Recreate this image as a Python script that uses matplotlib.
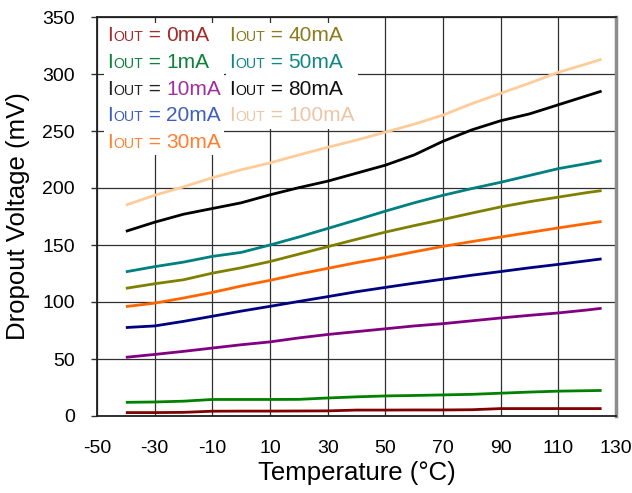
import matplotlib
matplotlib.use('Agg')
import matplotlib.pyplot as plt
from matplotlib.offsetbox import TextArea, HPacker, VPacker, AnchoredOffsetbox

plt.rcParams['font.family'] = ['Liberation Sans', 'DejaVu Sans']
plt.rcParams['axes.unicode_minus'] = False

# temperature points (deg C)
temps = [-40, -30, -20, -10, 0, 10, 20, 30, 40, 50, 60, 70, 80, 90, 100, 110, 120, 125]

# dropout voltage (mV) per load current
v_0ma = [3.0, 3.0, 3.2, 4.2, 4.3, 4.3, 4.4, 4.5, 5.2, 5.2, 5.3, 5.3, 5.5, 6.5, 6.5, 6.5, 6.5, 6.5]
v_1ma = [12.0, 12.3, 13.0, 14.5, 14.5, 14.5, 14.6, 15.8, 16.8, 17.6, 18.0, 18.5, 19.0, 20.0, 21.0, 21.8, 22.2, 22.4]
v_10ma = [51.5, 54.0, 56.7, 59.6, 62.5, 65.0, 68.5, 71.5, 74.0, 76.5, 79.0, 81.0, 83.5, 86.0, 88.3, 90.4, 93.0, 94.5]
v_20ma = [77.6, 79.0, 83.0, 87.5, 92.0, 96.2, 100.5, 104.7, 109.0, 112.8, 116.5, 120.0, 123.5, 126.7, 130.0, 133.0, 136.2, 137.8]
v_30ma = [96.0, 99.0, 103.5, 108.4, 114.0, 119.0, 124.5, 129.5, 134.5, 139.0, 144.0, 148.8, 153.0, 157.0, 161.0, 165.0, 168.8, 170.6]
v_40ma = [112.0, 116.0, 119.5, 125.3, 130.0, 135.5, 142.0, 148.5, 155.0, 161.3, 167.0, 172.4, 178.0, 183.4, 188.0, 192.0, 196.0, 197.7]
v_50ma = [126.5, 131.0, 135.0, 140.0, 143.5, 150.0, 157.0, 164.5, 172.0, 179.7, 187.0, 193.6, 199.5, 205.0, 211.0, 217.0, 221.5, 224.0]
v_80ma = [162.0, 170.0, 177.0, 182.0, 187.0, 194.0, 200.3, 206.0, 213.0, 220.0, 229.0, 241.0, 251.0, 259.0, 265.0, 273.0, 281.0, 285.0]
v_100ma = [185.0, 193.6, 201.0, 209.0, 216.0, 222.0, 229.0, 235.7, 242.0, 249.0, 256.0, 264.0, 274.0, 283.0, 292.0, 301.5, 309.0, 313.0]

series = [v_0ma, v_1ma, v_10ma, v_20ma, v_30ma, v_40ma, v_50ma, v_80ma, v_100ma]
line_colors = ['#800000', '#008000', '#800080', '#000080', '#FF6600',
               '#808000', '#008080', '#000000', '#FFCC99']

# legend texts (label value, prefix colour, value colour)
leg_values = ['0mA', '1mA', '10mA', '20mA', '30mA', '40mA', '50mA', '80mA', '100mA']
leg_prefix_colors = ['#A02C2C', '#10803C', '#222222', '#3F5FBF', '#FF8030',
                     '#8C7A1E', '#138585', '#111111', '#EBC6A6']
leg_value_colors = ['#A02C2C', '#10803C', '#A0309A', '#3F5FBF', '#FF8030',
                    '#8C7A1E', '#138585', '#111111', '#EBC6A6']

x_ticks = list(range(-50, 131, 20))
y_ticks = list(range(0, 351, 50))

W, H = 632, 493
fig = plt.figure(figsize=(W / 100, H / 100), dpi=100)
ax = fig.add_axes([97 / W, 1 - 416 / H, (616 - 97) / W, (416 - 17) / H])

for vals, c in zip(series, line_colors):
    ax.plot(temps, vals, color=c, lw=2.0, solid_capstyle='butt', zorder=3)

ax.set_xlim(-50, 130)
ax.set_ylim(0, 350)
ax.set_xticks(x_ticks)
ax.set_yticks(y_ticks)
ax.grid(True, color='#303030', lw=0.9, zorder=1)
ax.set_axisbelow(True)
ax.tick_params(axis='both', labelsize=14, direction='out', length=4, width=1,
               color='#303030')
ax.tick_params(axis='y', pad=12)
ax.tick_params(axis='x', length=0, pad=17)

for side in ['left', 'bottom', 'top']:
    ax.spines[side].set_color('#202020')
    ax.spines[side].set_linewidth(1.3)
ax.spines['right'].set_color('#8C8C8C')
ax.spines['right'].set_linewidth(2.5)

ax.set_xlabel('Temperature (°C)', fontsize=18.5, labelpad=3)
ax.set_ylabel('Dropout Voltage (mV)', fontsize=18.5, labelpad=9)

# title, cut off by the top edge as in the source image
fig.text(356 / W, 1 + 6 / H, 'Dropout Voltage vs. Temperature', fontsize=21,
         ha='center', va='baseline')


def leg_row(i):
    parts = [
        TextArea('I', textprops=dict(color=leg_prefix_colors[i], fontsize=15)),
        TextArea('OUT', textprops=dict(color=leg_prefix_colors[i], fontsize=10.2)),
        TextArea(' = ', textprops=dict(color=leg_prefix_colors[i], fontsize=15)),
        TextArea(leg_values[i], textprops=dict(color=leg_value_colors[i], fontsize=15)),
    ]
    return HPacker(children=parts, align='baseline', pad=0, sep=0)


def leg_column(rows, x_px, y_px):
    vp = VPacker(children=[leg_row(i) for i in rows], align='left', pad=0, sep=5.6)
    box = AnchoredOffsetbox(loc='upper left', child=vp, pad=0.15, borderpad=0,
                            frameon=True, prop=dict(size=15),
                            bbox_to_anchor=(x_px / W, 1 - y_px / H),
                            bbox_transform=fig.transFigure)
    box.patch.set_facecolor('white')
    box.patch.set_edgecolor('none')
    box.patch.set_boxstyle('square', pad=0)
    box.zorder = 5
    ax.add_artist(box)


leg_column([0, 1, 2, 3, 4], 104, 23)
leg_column([5, 6, 7, 8], 226, 23)

fig.savefig('out.png', dpi=100)
